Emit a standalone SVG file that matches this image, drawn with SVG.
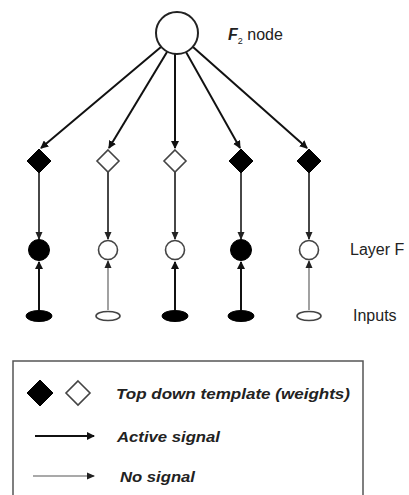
<svg xmlns="http://www.w3.org/2000/svg" width="409" height="495" viewBox="0 0 409 495">
  <defs>
    <marker id="ah" markerUnits="userSpaceOnUse" markerWidth="8" markerHeight="8" refX="7" refY="4" orient="auto">
      <path d="M0,0 L8,4 L0,8 z" fill="#111"/>
    </marker>
    <marker id="ahg" markerUnits="userSpaceOnUse" markerWidth="8" markerHeight="8" refX="7" refY="4" orient="auto">
      <path d="M0,0.5 L8,4 L0,7.5 z" fill="#222"/>
    </marker>
  </defs>
  <style>
    .bg { fill: #ffffff; }
    .solid { fill: #000; stroke: #000; stroke-width: 1; }
    .hollow { fill: #fff; stroke: #444; stroke-width: 1.6; }
    .act { stroke: #111; stroke-width: 2; fill: none; }
    .mid { stroke: #333; stroke-width: 1.8; fill: none; }
    .no { stroke: #555; stroke-width: 1.1; fill: none; }
    .lbl { font-family: "Liberation Sans", Arial, sans-serif; font-size: 16px; fill: #222; }
    .leg { font-family: "Liberation Sans", Arial, sans-serif; font-size: 15px; font-style: italic; font-weight: bold; fill: #222; }
    .box { fill: none; stroke: #555; stroke-width: 1.5; }
  </style>
  <rect class="bg" x="0" y="0" width="409" height="495"/>

  <g id="connectors">
    <!-- F2 node to template weights -->
    <line class="act" x1="161" y1="47" x2="41" y2="148" marker-end="url(#ah)"/>
    <line class="act" x1="167" y1="52" x2="109" y2="148" marker-end="url(#ah)"/>
    <line class="act" x1="175" y1="54" x2="175" y2="148" marker-end="url(#ah)"/>
    <line class="act" x1="186" y1="52" x2="240" y2="148" marker-end="url(#ah)"/>
    <line class="act" x1="193" y1="47" x2="307" y2="148" marker-end="url(#ah)"/>
    <!-- weights to layer F1 -->
    <line class="mid" x1="39" y1="172" x2="39" y2="239" marker-end="url(#ahg)"/>
    <line class="mid" x1="108" y1="172" x2="108" y2="239" marker-end="url(#ahg)"/>
    <line class="mid" x1="175" y1="172" x2="175" y2="239" marker-end="url(#ahg)"/>
    <line class="mid" x1="241" y1="172" x2="241" y2="239" marker-end="url(#ahg)"/>
    <line class="mid" x1="309" y1="172" x2="309" y2="239" marker-end="url(#ahg)"/>
    <!-- inputs to layer F1 -->
    <line class="act" x1="39" y1="310" x2="39" y2="262" marker-end="url(#ah)"/>
    <line class="no" x1="108" y1="310" x2="108" y2="261" marker-end="url(#ahg)"/>
    <line class="act" x1="175" y1="310" x2="175" y2="262" marker-end="url(#ah)"/>
    <line class="act" x1="241" y1="310" x2="241" y2="262" marker-end="url(#ah)"/>
    <line class="no" x1="309" y1="310" x2="309" y2="261" marker-end="url(#ahg)"/>
  </g>

  <g id="f2-node">
    <circle class="hollow" cx="177" cy="33" r="21" style="stroke:#222;stroke-width:2"/>
    <text class="lbl" x="228" y="40"><tspan font-style="italic" font-weight="bold">F</tspan><tspan font-size="9" dy="4">2</tspan><tspan dy="-4"> node</tspan></text>
  </g>

  <g id="weights">
    <path class="solid" d="M39,149 L51,161 L39,173 L27,161 z"/>
    <path class="hollow" d="M108,150 L119,161 L108,172 L97,161 z"/>
    <path class="hollow" d="M175,150 L186,161 L175,172 L164,161 z"/>
    <path class="solid" d="M241,149 L253,161 L241,173 L229,161 z"/>
    <path class="solid" d="M309,149 L321,161 L309,173 L297,161 z"/>
  </g>

  <g id="layer-f1">
    <circle class="solid" cx="39" cy="250" r="10.5"/>
    <circle class="hollow" cx="108" cy="250" r="9.5"/>
    <circle class="hollow" cx="175" cy="250" r="9.5"/>
    <circle class="solid" cx="241" cy="250" r="10.5"/>
    <circle class="hollow" cx="309" cy="250" r="9.5"/>
    <text class="lbl" x="350" y="255">Layer F</text>
  </g>

  <g id="inputs">
    <ellipse class="solid" cx="39" cy="316" rx="13" ry="5.5"/>
    <ellipse class="hollow" cx="108" cy="316" rx="12" ry="4.5"/>
    <ellipse class="solid" cx="175" cy="316" rx="13" ry="5.5"/>
    <ellipse class="solid" cx="241" cy="316" rx="13" ry="5.5"/>
    <ellipse class="hollow" cx="309" cy="316" rx="12" ry="4.5"/>
    <text class="lbl" x="353" y="321">Inputs</text>
  </g>

  <g id="legend">
    <path class="box" d="M13,500 V361 H363 V500"/>
    <path class="solid" d="M40,380 L53,393 L40,406 L27,393 z"/>
    <path class="hollow" d="M78,381 L90,393 L78,405 L66,393 z"/>
    <text class="leg" x="116" y="399" textLength="234" lengthAdjust="spacingAndGlyphs">Top down template (weights)</text>
    <line class="act" x1="35" y1="436" x2="94" y2="436" marker-end="url(#ah)"/>
    <text class="leg" x="117" y="442" textLength="103" lengthAdjust="spacingAndGlyphs">Active signal</text>
    <line class="no" x1="33" y1="476" x2="94" y2="476" marker-end="url(#ahg)"/>
    <text class="leg" x="120" y="482" textLength="75" lengthAdjust="spacingAndGlyphs">No signal</text>
  </g>
</svg>
